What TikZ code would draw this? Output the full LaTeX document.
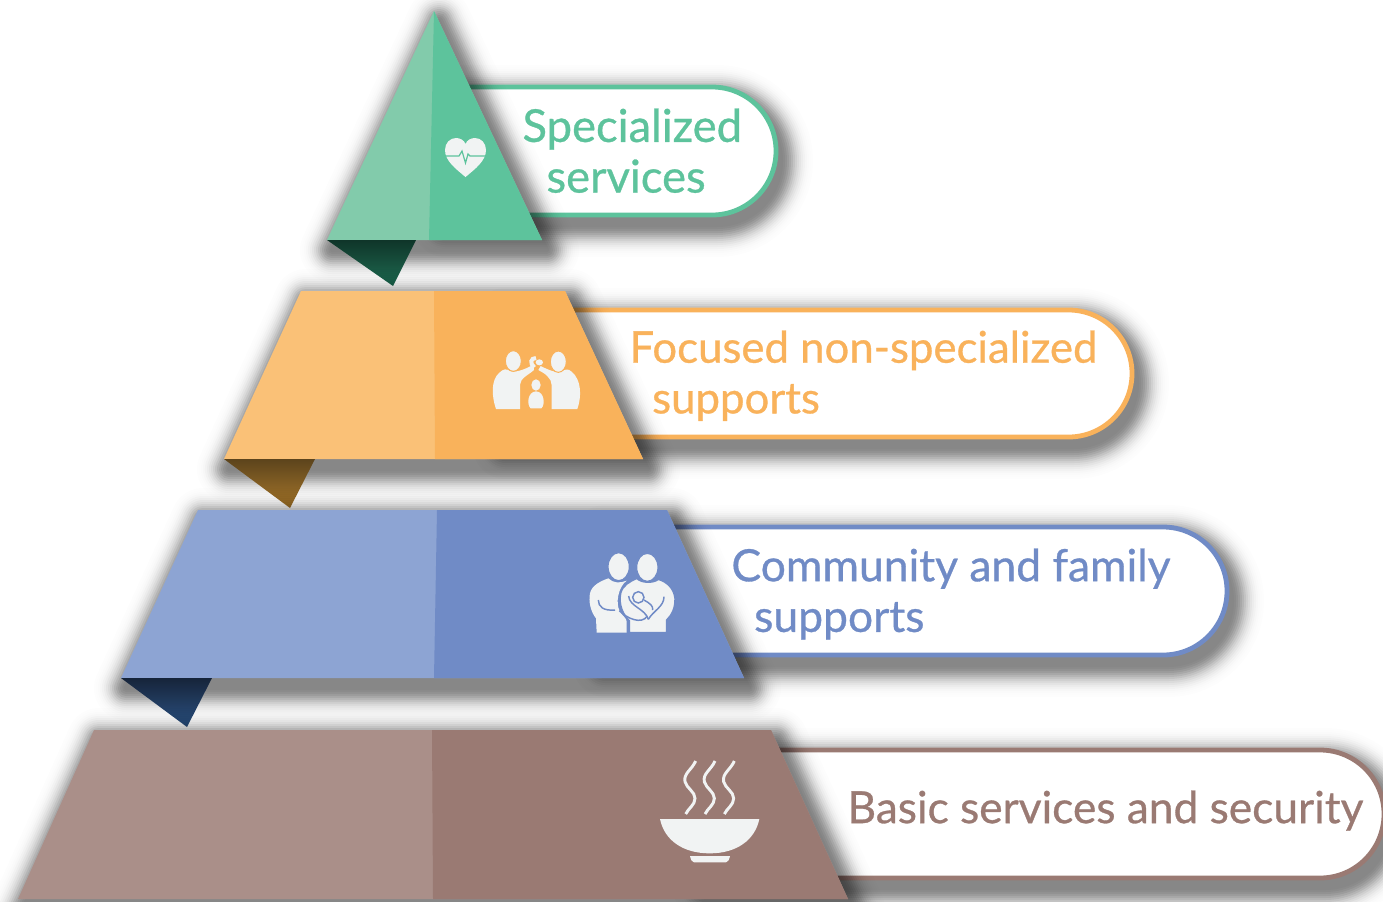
\documentclass[tikz,border=0pt]{standalone}
\usepackage{fontspec}
\setmainfont{Lato}
\newfontfamily\labelfont{Lato}[FakeBold=0.7]
\definecolor{greenLight}{HTML}{82CBAB}
\definecolor{greenDark}{HTML}{5DC39C}
\definecolor{orangeLight}{HTML}{FAC177}
\definecolor{orangeDark}{HTML}{F9B25B}
\definecolor{blueLight}{HTML}{8DA4D3}
\definecolor{blueDark}{HTML}{708BC6}
\definecolor{brownLight}{HTML}{AA8F89}
\definecolor{brownDark}{HTML}{9A7A73}
\definecolor{iconGrey}{HTML}{F1F3F3}
\definecolor{greenRibbonTop}{HTML}{0F3529}
\definecolor{greenRibbonEnd}{HTML}{1F6B52}
\definecolor{orangeRibbonTop}{HTML}{5C441C}
\definecolor{orangeRibbonEnd}{HTML}{A8772B}
\definecolor{blueRibbonTop}{HTML}{16243A}
\definecolor{blueRibbonEnd}{HTML}{2C5282}
\tikzset{every picture/.style={line width=0.75pt}}
\tikzset{
  pillshape/.style={draw=#1,line width=3.6pt,fill=white},
  tiershape/.style={fill=#1},
  foldshape/.style={fill=#1},
  ribbonshape/.style n args={2}{top color=#1,bottom color=#2},
  tierlabel/.style n args={2}{anchor=north west,inner sep=0.75pt,font=\labelfont\fontsize{#2}{38}\selectfont,align=left,text=#1},
  iconshape/.style={fill=iconGrey},
  iconzoom/.style={shift={(#1)},xscale=1/3,yscale=1/3}
}
\newcommand{\softshadow}[1]{%
  \foreach \w/\a in {48/0.006,45/0.005,42/0.008,39/0.012,36/0.018,33/0.024,30/0.034,27/0.041,24/0.052,21/0.061,18/0.069,15/0.07,12/0.07,9/0.062,6/0.05,3/0.03} {
    \begin{scope}[transparency group,opacity=\a,shift={(5,10)}]
      \path [fill=black,draw=black,line width=\w pt,line join=round] #1 ;
    \end{scope}
  }
}

\begin{document}
\begin{tikzpicture}[x=0.75pt,y=0.75pt,yscale=-1,xscale=1]
\useasboundingbox (0,0) rectangle (1383,901);

%Shape: Pill top
\softshadow{(440,87) -- (712,87) arc (-90:90:64) -- (440,215) -- cycle}
\draw [pillshape=greenDark] (440,87) -- (712,87) arc (-90:90:64) -- (440,215) -- cycle ;
%Shape: Pill second
\softshadow{(500,310) -- (1068.5,310) arc (-90:90:63.5) -- (500,437) -- cycle}
\draw [pillshape=orangeDark] (500,310) -- (1068.5,310) arc (-90:90:63.5) -- (500,437) -- cycle ;
%Shape: Pill third
\softshadow{(600,527) -- (1163,527) arc (-90:90:64) -- (600,655) -- cycle}
\draw [pillshape=blueDark] (600,527) -- (1163,527) arc (-90:90:64) -- (600,655) -- cycle ;
%Shape: Pill bottom
\softshadow{(700,750) -- (1320,750) arc (-90:90:64) -- (700,878) -- cycle}
\draw [pillshape=brownDark] (700,750) -- (1320,750) arc (-90:90:64) -- (700,878) -- cycle ;

%Shape: Triangle top
\softshadow{(434,11) -- (542,240) -- (327,240) -- cycle}
\fill [tiershape=greenLight] (434,11) -- (542,240) -- (327,240) -- cycle ;
\fill [foldshape=greenDark] (434,11) -- (542,240) -- (429,240) -- cycle ;
%Shape: Ribbon top
\shade [ribbonshape={greenRibbonTop}{greenRibbonEnd}] (327,240) -- (416,240) -- (393,286) -- cycle ;

%Shape: Trapezoid second
\softshadow{(301,291) -- (565,291) -- (643,459) -- (224,459) -- cycle}
\fill [tiershape=orangeLight] (301,291) -- (565,291) -- (643,459) -- (224,459) -- cycle ;
\fill [foldshape=orangeDark] (434,291) -- (565,291) -- (643,459) -- (435,459) -- cycle ;
%Shape: Ribbon second
\shade [ribbonshape={orangeRibbonTop}{orangeRibbonEnd}] (224,459) -- (315,459) -- (290,508) -- cycle ;

%Shape: Trapezoid third
\softshadow{(198,510) -- (667,510) -- (744,678) -- (121,678) -- cycle}
\fill [tiershape=blueLight] (198,510) -- (667,510) -- (744,678) -- (121,678) -- cycle ;
\fill [foldshape=blueDark] (437,510) -- (667,510) -- (744,678) -- (434,678) -- cycle ;
%Shape: Ribbon third
\shade [ribbonshape={blueRibbonTop}{blueRibbonEnd}] (121,678) -- (212,678) -- (187,727) -- cycle ;

%Shape: Trapezoid bottom
\softshadow{(94,730) -- (771,730) -- (848,899) -- (18,899) -- cycle}
\fill [tiershape=brownLight] (94,730) -- (771,730) -- (848,899) -- (18,899) -- cycle ;
\fill [foldshape=brownDark] (432,730) -- (771,730) -- (848,899) -- (433,899) -- cycle ;

%Shape: Heart
\fill [iconshape] (465.5,177) .. controls (456,169) and (445,161) .. (445,150) .. controls (445,143) and (450,138) .. (456,138) .. controls (460,138) and (464,140) .. (465.5,144) .. controls (467,140) and (471,138) .. (475,138) .. controls (481,138) and (486,143) .. (486,150) .. controls (486,161) and (475,169) .. (465.5,177) -- cycle ;
\draw [greenDark,line width=0.9pt] (445,156) -- (459,156) -- (462,151) -- (465.5,163) -- (468,154) -- (470,156) -- (486,156) ;

%Shape: Family with child
\begin{scope}[iconzoom={470,330}]
\fill [iconshape] (78,237) .. controls (65,200) and (62,150) .. (88,128) .. controls (100,116) and (110,116) .. (118,122) .. controls (130,130) and (165,120) .. (190,103) -- (192,120) .. controls (175,135) and (150,145) .. (150,165) -- (150,237) -- cycle ;
\fill [iconshape] (322,237) .. controls (335,200) and (335,150) .. (305,125) .. controls (295,115) and (285,118) .. (275,124) .. controls (260,130) and (235,120) .. (212,108) -- (205,120) .. controls (225,130) and (245,145) .. (245,165) -- (245,237) -- cycle ;
\draw [iconshape,draw=orangeDark,line width=0.75pt] (130,93) ellipse (24 and 31) ;
\draw [iconshape,draw=orangeDark,line width=0.75pt] (265,95) ellipse (24 and 32) ;
\draw [iconGrey,line width=3pt] (193,112) .. controls (178,100) and (182,84) .. (198,84) ;
\fill [iconGrey] (208,97) ellipse (11 and 9) ;
\fill [iconGrey] (198,165) ellipse (14 and 17) ;
\fill [iconshape] (182,235) .. controls (170,225) and (172,185) .. (198,184) .. controls (224,185) and (226,225) .. (214,235) -- cycle ;
\end{scope}

%Shape: Couple with baby
\begin{scope}[iconzoom={570,540}]
\fill [iconshape] (80,278) -- (78,235) .. controls (62,215) and (55,185) .. (60,160) .. controls (65,135) and (95,122) .. (115,115) .. controls (130,130) and (150,130) .. (170,122) .. controls (145,140) and (135,190) .. (150,215) .. controls (158,228) and (170,235) .. (170,245) -- (170,278) -- cycle ;
\draw [iconshape,draw=blueDark,line width=1.1pt] (178,278) -- (178,242) .. controls (160,225) and (145,195) .. (152,160) .. controls (158,135) and (180,125) .. (200,115) .. controls (215,130) and (250,130) .. (265,118) .. controls (290,125) and (312,145) .. (315,175) .. controls (316,205) and (305,225) .. (290,240) -- (290,278) -- cycle ;
\draw [iconshape,draw=blueDark,line width=0.9pt] (146,80) ellipse (32 and 42) ;
\draw [iconshape,draw=blueDark,line width=0.9pt] (232,82) ellipse (32 and 42) ;
\draw [blueDark,line width=1.1pt] (85,180) .. controls (85,200) and (100,213) .. (135,210) ;
\draw [blueDark,line width=1.1pt] (282,170) .. controls (282,200) and (250,212) .. (235,238) ;
\draw [blueDark,line width=1.1pt] (205,172) circle (17) ;
\draw [blueDark,line width=1.1pt] (176,168) .. controls (178,200) and (225,205) .. (235,238) ;
\draw [blueDark,line width=1.1pt] (222,180) .. controls (240,190) and (250,198) .. (248,210) ;
\draw [blueDark,line width=1.1pt] (148,212) .. controls (170,235) and (215,255) .. (232,228) ;
\end{scope}

%Shape: Bowl with steam
\begin{scope}[iconzoom={640,740}]
\fill [iconshape] (60,237) -- (358,237) .. controls (345,300) and (290,340) .. (209,340) .. controls (128,340) and (73,300) .. (60,237) -- cycle ;
\fill [iconshape] (150,348) -- (270,348) .. controls (268,358) and (264,367) .. (258,367) -- (162,367) .. controls (156,367) and (152,358) .. (150,348) -- cycle ;
\foreach \dx in {0,58,116} {
\draw [iconGrey,line width=2.2pt] (167+\dx,63) .. controls (155+\dx,90) and (130+\dx,100) .. (135+\dx,125) .. controls (140+\dx,145) and (165+\dx,155) .. (165+\dx,175) .. controls (165+\dx,195) and (145+\dx,205) .. (137+\dx,222) ;
}
\end{scope}

% Text Node
\draw (521,107) node (lblSpecialized) [tierlabel={greenDark}{34}] {Specialized\\\hspace*{18pt}services};
% Text Node
\draw (628,329) node (lblFocused) [tierlabel={orangeDark}{32.8}] {Focused non-specialized\\\hspace*{17pt}supports};
% Text Node
\draw (730,547) node (lblCommunity) [tierlabel={blueDark}{33.3}] {Community and family\\\hspace*{17pt}supports};
% Text Node
\draw (846,789) node (lblBasic) [tierlabel={brownDark}{33.2}] {Basic services and security};

\end{tikzpicture}
\end{document}
